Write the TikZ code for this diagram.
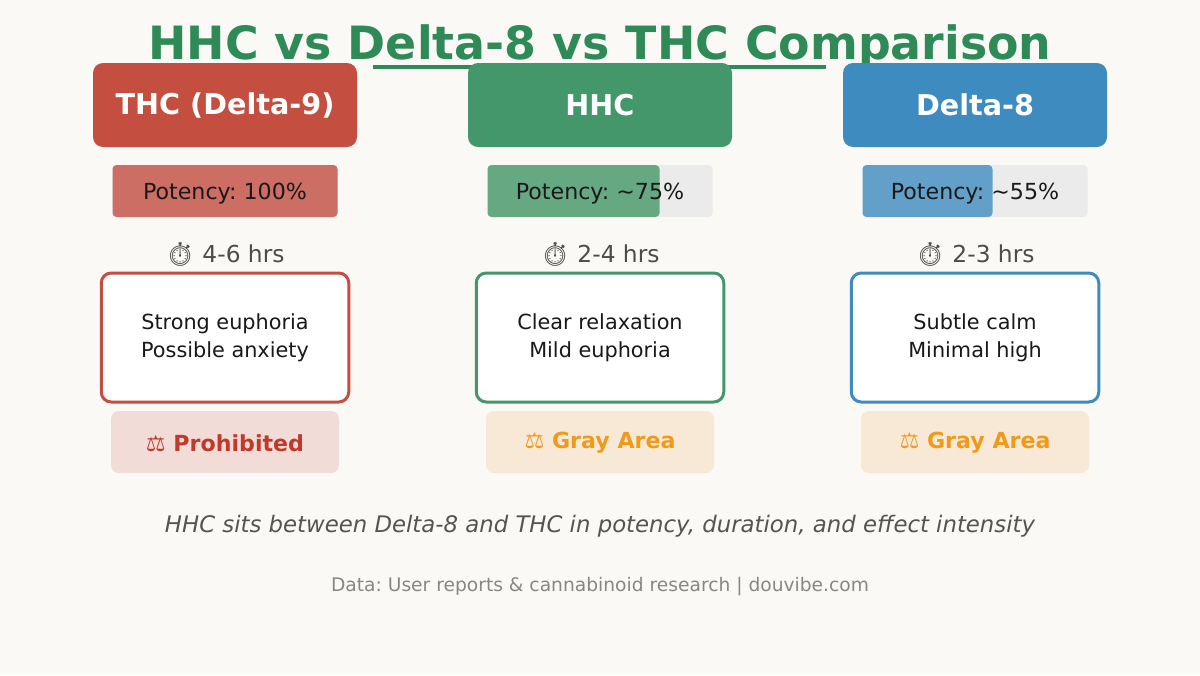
\documentclass[tikz,border=0pt]{standalone}
\usepackage{fontspec}
\setmainfont{DejaVu Sans}
\newfontfamily\emo{Noto Emoji}
\frenchspacing
\begin{document}
\begin{tikzpicture}[x=0.75pt,y=-0.75pt,
  effbox/.style={draw,line width=2.25pt,fill=white,rounded corners=7.5pt,align=center,font=\fontsize{15.6}{21}\selectfont,text=black!90},
  lbl/.style={font=\fontsize{17.5}{20}\selectfont,text=black!70},
]
\definecolor{bg}{HTML}{FAF9F6}
\definecolor{cR}{HTML}{C44E3F}\definecolor{cG}{HTML}{43976A}\definecolor{cB}{HTML}{3E8BC0}
\definecolor{lR}{HTML}{CC6E63}\definecolor{lG}{HTML}{66A882}\definecolor{lB}{HTML}{62A0C9}
\definecolor{pR}{HTML}{F2DCD7}\definecolor{pO}{HTML}{F8E9D6}
\definecolor{tR}{HTML}{C0392B}\definecolor{tO}{HTML}{EE9A1C}
\definecolor{ttl}{HTML}{2E8B57}
\fill[bg] (0,0) rectangle (1200,675);
\node[font=\bfseries\fontsize{34.4}{40}\selectfont,text=ttl] (title) at (600,47) {HHC vs Delta-8 vs THC Comparison};
\draw[ttl,line width=3pt] (373,67) -- (826,67);
\foreach \cx/\c/\l/\name/\pw/\pot/\hrs/\la/\lb/\pf/\tf/\leg [count=\i] in
 {225/cR/lR/THC (Delta-9)/225/100\%/4-6 hrs/Strong euphoria/Possible anxiety/pR/tR/Prohibited,
  600/cG/lG/HHC/172/\textasciitilde75\%/2-4 hrs/Clear relaxation/Mild euphoria/pO/tO/Gray Area,
  975/cB/lB/Delta-8/130/\textasciitilde55\%/2-3 hrs/Subtle calm/Minimal high/pO/tO/Gray Area}{
  \fill[\c,rounded corners=7.5pt] (\cx-132,63) rectangle (\cx+132,147);
  \node[font=\bfseries\fontsize{21.5}{24}\selectfont,text=white] (h\i) at (\cx,105) {\name};
  \fill[black!8,rounded corners=3pt] (\cx-112.5,165) rectangle (\cx+112.5,217);
  \fill[\l,rounded corners=3pt] (\cx-112.5,165) rectangle (\cx-112.5+\pw,217);
  \node[font=\fontsize{16.6}{20}\selectfont,text=black!90] (p\i) at (\cx,194) {Potency: \pot};
  \node[lbl] (t\i) at (\cx,255) {{\emo ⏱} \hrs};
  \node[effbox,draw=\c,minimum width=247.5*0.75pt,minimum height=129*0.75pt] (e\i) at (\cx,337.5) {\la\\\lb};
  \fill[\pf,rounded corners=6pt] (\cx-114,411) rectangle (\cx+114,473);
  \node[font=\bfseries\fontsize{16.6}{20}\selectfont,text=\tf] (l\i) at (\cx,443) {⚖ \leg};
}
\node[font=\itshape\fontsize{17.1}{20}\selectfont,text=black!67] (foot) at (600,526) {HHC sits between Delta-8 and THC in potency, duration, and effect intensity};
\node[font=\fontsize{14}{16}\selectfont,text=black!47] (data) at (600,587) {Data: User reports \& cannabinoid research | douvibe.com};
\end{tikzpicture}
\end{document}
